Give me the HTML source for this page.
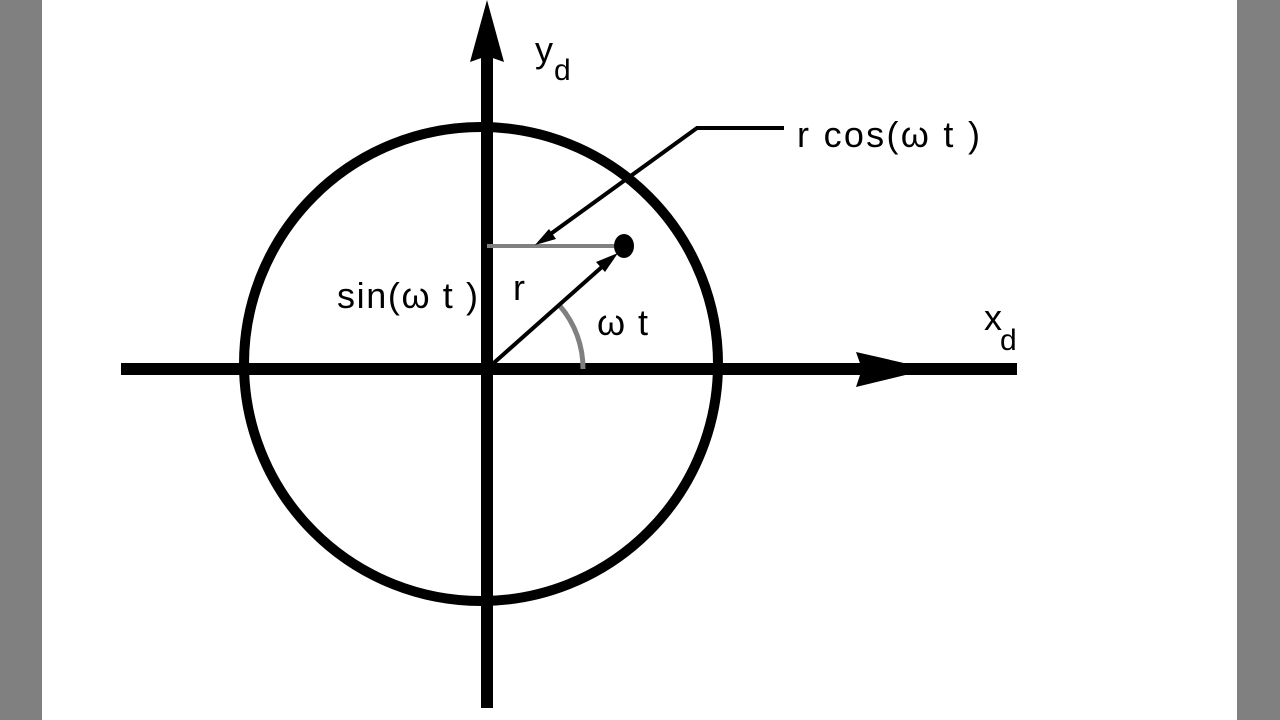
<!DOCTYPE html>
<html><head><style>
body{margin:0;width:1280px;height:720px;overflow:hidden;background:#fff}
svg{display:block}
text{font-family:"Liberation Sans",Arial,sans-serif;fill:#000}
</style></head><body>
<svg width="1280" height="720" viewBox="0 0 1280 720">
<rect x="0" y="0" width="42" height="720" fill="#808080"/>
<rect x="1237" y="0" width="43" height="720" fill="#808080"/>
<circle cx="481" cy="364" r="237" fill="none" stroke="#000" stroke-width="10"/>
<line x1="121" y1="369" x2="1017" y2="369" stroke="#000" stroke-width="12"/>
<polygon points="856,352 930,369 856,387 862,369" fill="#000"/>
<line x1="487" y1="40" x2="487" y2="708" stroke="#000" stroke-width="12"/>
<polygon points="470,62 487,0 504,62 487,56" fill="#000"/>
<line x1="487" y1="246" x2="624" y2="246" stroke="#808080" stroke-width="4"/>
<path d="M583,369 A96,96 0 0 0 560,306" fill="none" stroke="#808080" stroke-width="5"/>
<line x1="487" y1="369" x2="612" y2="258" stroke="#000" stroke-width="4"/>
<polygon points="618,253 596,262 605,272" fill="#000"/>
<ellipse cx="624" cy="246" rx="10" ry="12" fill="#000"/>
<polyline points="784,128 697,128 545,238" fill="none" stroke="#000" stroke-width="4"/>
<polygon points="535,245 549,229 556,239" fill="#000"/>
<text x="797" y="147" font-size="36" textLength="183" lengthAdjust="spacing">r cos(ω t )</text>
<text x="337" y="308" font-size="36" textLength="141" lengthAdjust="spacing">sin(ω t )</text>
<text x="513" y="300" font-size="36">r</text>
<text x="597" y="335" font-size="36" textLength="51" lengthAdjust="spacing">ω t</text>
<text x="535" y="62" font-size="36">y</text>
<text x="554" y="80" font-size="30">d</text>
<text x="984" y="330" font-size="36">x</text>
<text x="1000" y="350" font-size="30">d</text>
</svg>
</body></html>
